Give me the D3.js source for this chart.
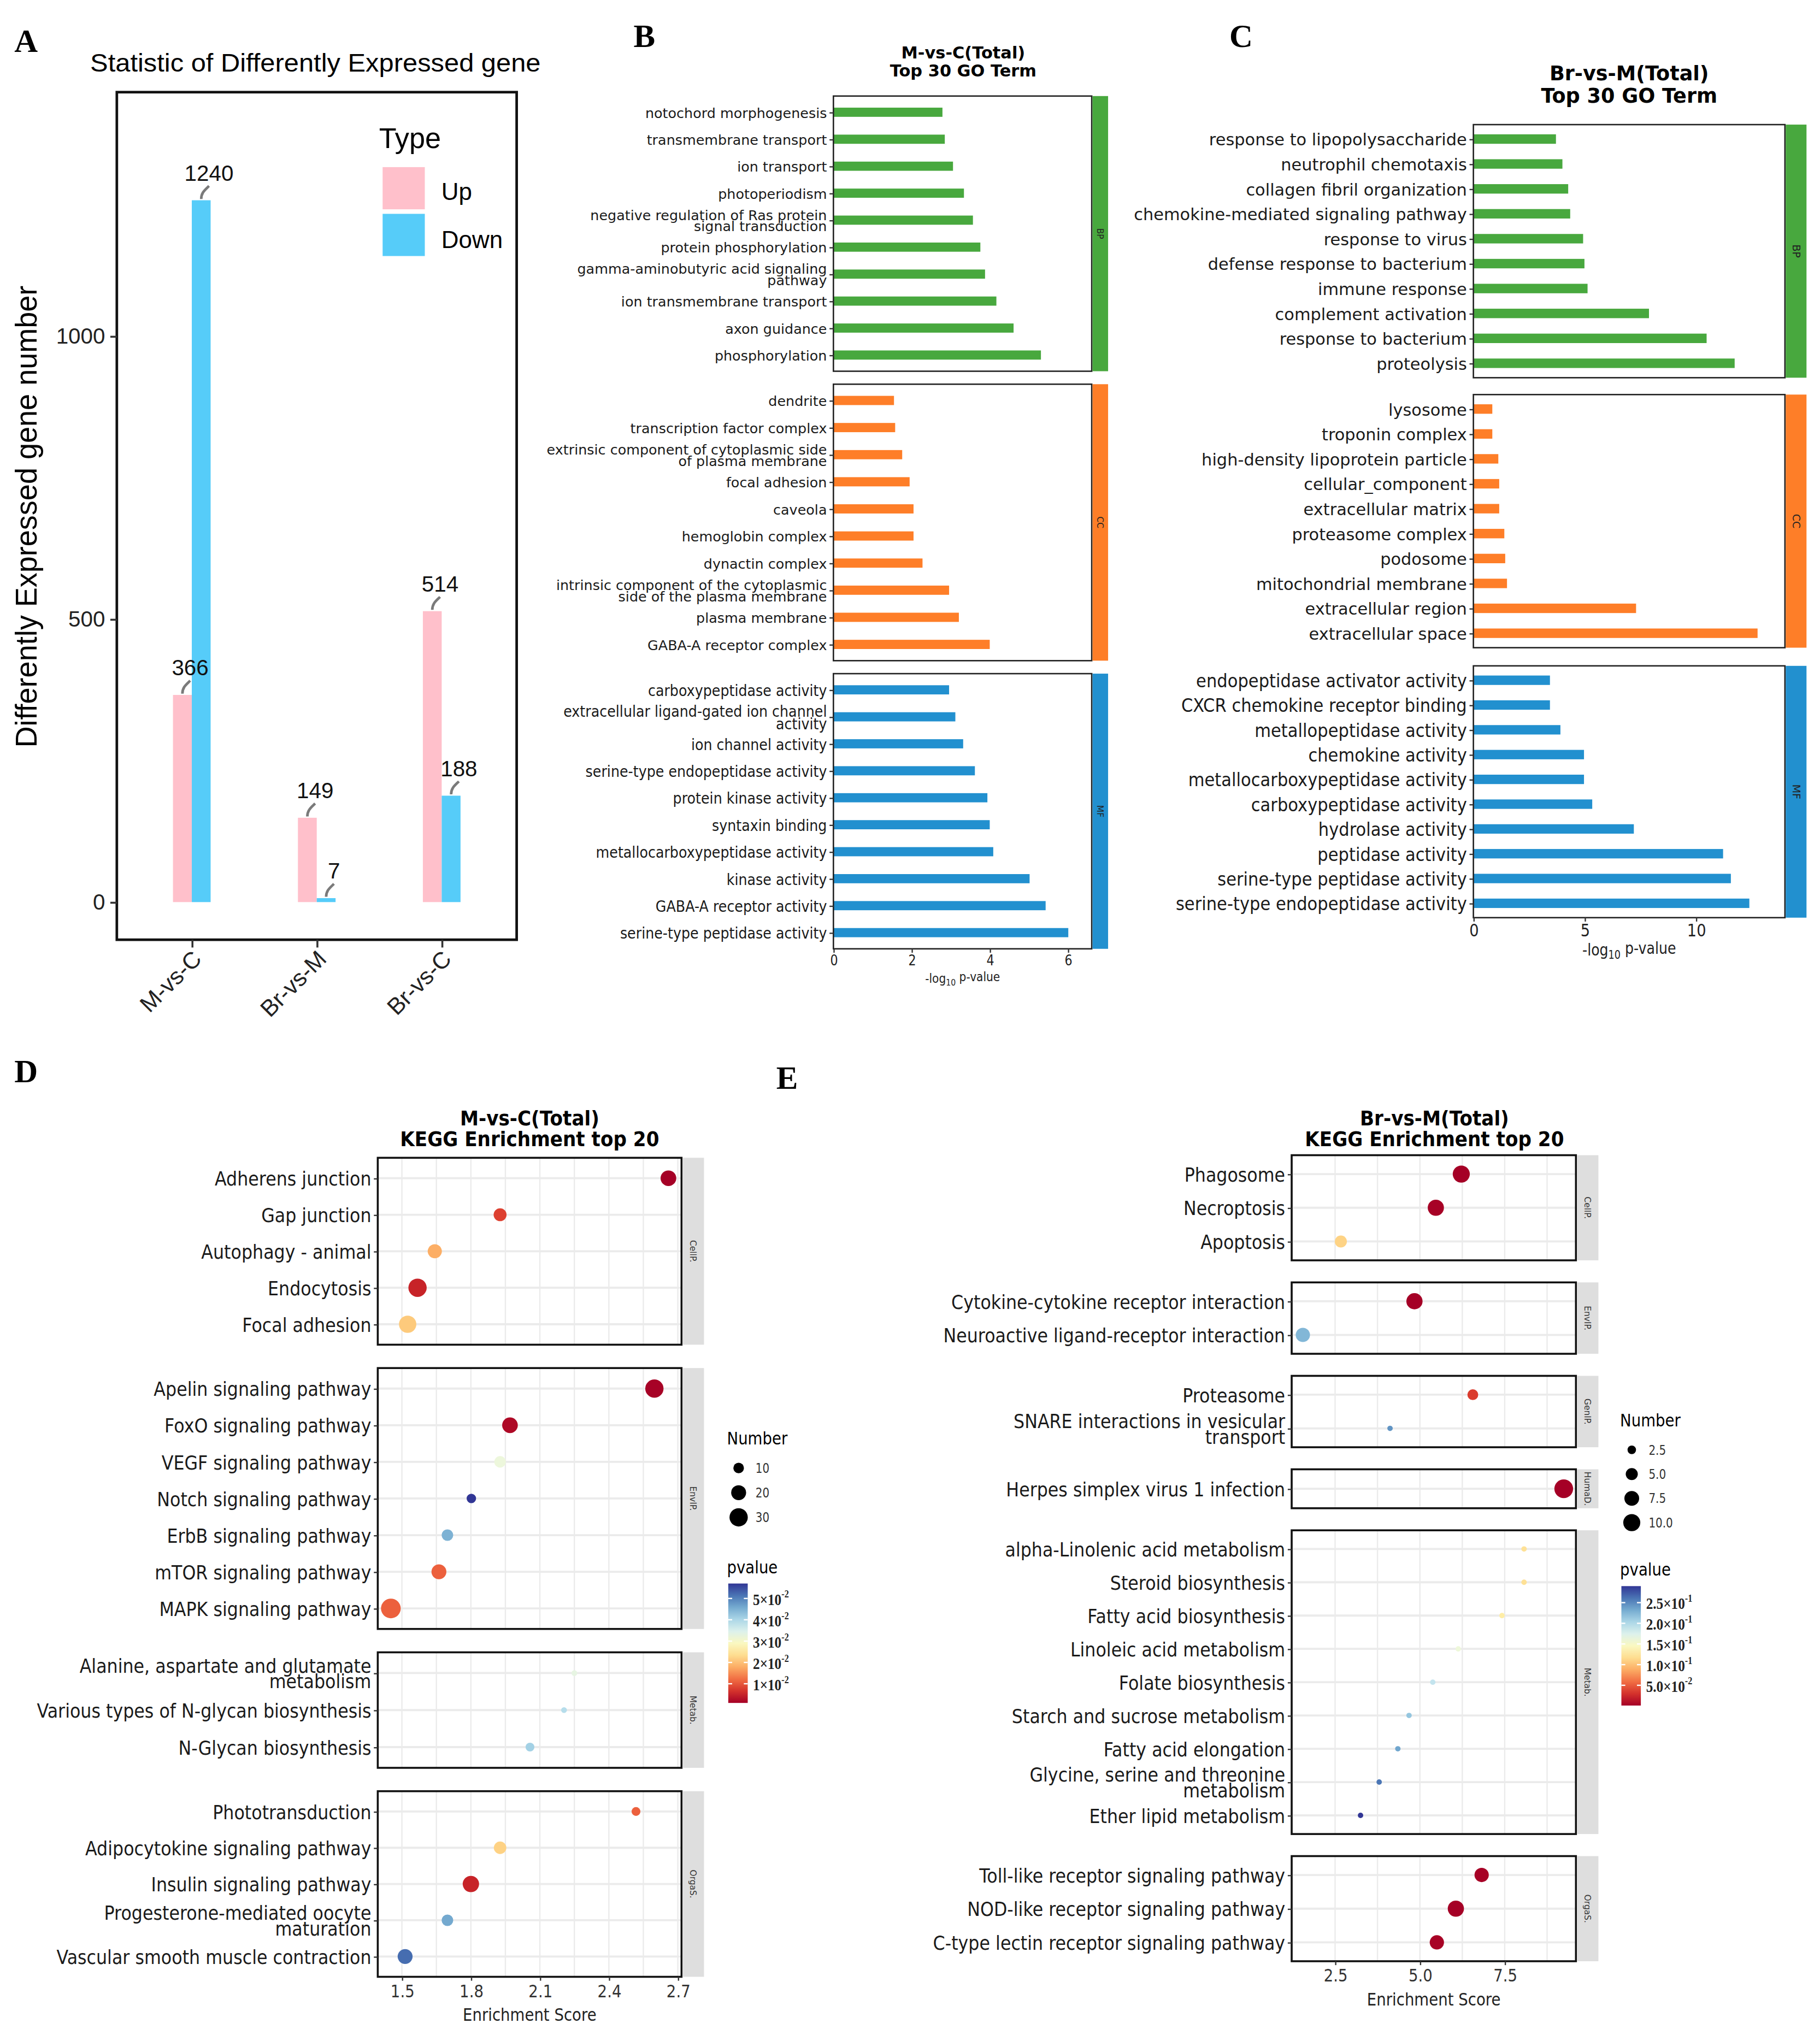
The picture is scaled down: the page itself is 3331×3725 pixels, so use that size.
<!DOCTYPE html>
<html lang="en">
<head>
<meta charset="UTF-8" />
<title>DEG statistics, GO and KEGG enrichment</title>
<script src="https://cdn.jsdelivr.net/npm/d3@7"></script>
<style>
  body { margin: 0; background: #fff; }
</style>
</head>
<body>
<svg id="fig"></svg>
<script>
// ---------- data ----------
const degGroups = ["M-vs-C", "Br-vs-M", "Br-vs-C"];
const degUp = [366, 149, 514];
const degDown = [1240, 7, 188];

// panel B : M-vs-C GO top 30 (-log10 p)
const goB_BP = ["notochord morphogenesis", "transmembrane transport", "ion transport", "photoperiodism",
  "negative regulation of Ras protein\nsignal transduction", "protein phosphorylation",
  "gamma-aminobutyric acid signaling\npathway", "ion transmembrane transport", "axon guidance", "phosphorylation"];
const goB_BPval = [2.79, 2.85, 3.06, 3.34, 3.57, 3.76, 3.88, 4.17, 4.61, 5.31];
const goB_CC = ["dendrite", "transcription factor complex", "extrinsic component of cytoplasmic side\nof plasma membrane",
  "focal adhesion", "caveola", "hemoglobin complex", "dynactin complex",
  "intrinsic component of the cytoplasmic\nside of the plasma membrane", "plasma membrane", "GABA-A receptor complex"];
const goB_CCval = [1.55, 1.58, 1.76, 1.95, 2.05, 2.05, 2.28, 2.96, 3.21, 4.0];
const goB_MF = ["carboxypeptidase activity", "extracellular ligand-gated ion channel\nactivity", "ion channel activity",
  "serine-type endopeptidase activity", "protein kinase activity", "syntaxin binding",
  "metallocarboxypeptidase activity", "kinase activity", "GABA-A receptor activity", "serine-type peptidase activity"];
const goB_MFval = [2.96, 3.12, 3.32, 3.62, 3.94, 4.0, 4.09, 5.02, 5.43, 6.01];
const goB_ticks = [0, 2, 4, 6];

// panel C : Br-vs-M GO top 30
const goC_BP = ["response to lipopolysaccharide", "neutrophil chemotaxis", "collagen fibril organization",
  "chemokine-mediated signaling pathway", "response to virus", "defense response to bacterium",
  "immune response", "complement activation", "response to bacterium", "proteolysis"];
const goC_BPval = [3.71, 4.0, 4.26, 4.35, 4.93, 4.99, 5.13, 7.89, 10.48, 11.74];
const goC_CC = ["lysosome", "troponin complex", "high-density lipoprotein particle", "cellular_component",
  "extracellular matrix", "proteasome complex", "podosome", "mitochondrial membrane",
  "extracellular region", "extracellular space"];
const goC_CCval = [0.85, 0.85, 1.12, 1.16, 1.16, 1.39, 1.43, 1.51, 7.31, 12.77];
const goC_MF = ["endopeptidase activator activity", "CXCR chemokine receptor binding", "metallopeptidase activity",
  "chemokine activity", "metallocarboxypeptidase activity", "carboxypeptidase activity", "hydrolase activity",
  "peptidase activity", "serine-type peptidase activity", "serine-type endopeptidase activity"];
const goC_MFval = [3.44, 3.44, 3.91, 4.97, 4.97, 5.34, 7.21, 11.22, 11.57, 12.4];
const goC_ticks = [0, 5, 10];

// panel D : M-vs-C KEGG top 20
const keggD_classes = ["CellP.", "EnvIP.", "Metab.", "OrgaS."];
const keggD_term = ["Adherens junction", "Gap junction", "Autophagy - animal", "Endocytosis", "Focal adhesion",
  "Apelin signaling pathway", "FoxO signaling pathway", "VEGF signaling pathway", "Notch signaling pathway",
  "ErbB signaling pathway", "mTOR signaling pathway", "MAPK signaling pathway",
  "Alanine, aspartate and glutamate\nmetabolism", "Various types of N-glycan biosynthesis", "N-Glycan biosynthesis",
  "Phototransduction", "Adipocytokine signaling pathway", "Insulin signaling pathway",
  "Progesterone-mediated oocyte\nmaturation", "Vascular smooth muscle contraction"];
const keggD_class = ["CellP.", "CellP.", "CellP.", "CellP.", "CellP.",
  "EnvIP.", "EnvIP.", "EnvIP.", "EnvIP.", "EnvIP.", "EnvIP.", "EnvIP.",
  "Metab.", "Metab.", "Metab.",
  "OrgaS.", "OrgaS.", "OrgaS.", "OrgaS.", "OrgaS."];
const keggD_score = [2.659, 1.927, 1.643, 1.568, 1.525, 2.598, 1.97, 1.927, 1.802, 1.698, 1.661, 1.452,
  2.25, 2.205, 2.057, 2.518, 1.927, 1.80, 1.698, 1.514];
const keggD_number = [22, 15, 18, 30, 27, 30, 22, 12, 8, 12, 20, 35, 3, 3, 7, 7, 14, 24, 12, 20];
const keggD_p = [0.001, 0.008, 0.018, 0.005, 0.021, 0.0012, 0.002, 0.032, 0.057, 0.045, 0.011, 0.011,
  0.033, 0.039, 0.041, 0.011, 0.022, 0.005, 0.046, 0.052];
const keggD_ticks = [1.5, 1.8, 2.1, 2.4, 2.7];
const keggD_sizeBreaks = [10, 20, 30];
const keggD_pBreaks = [0.01, 0.02, 0.03, 0.04, 0.05];
const keggD_pMant = ["1", "2", "3", "4", "5"];
const keggD_pExp = ["-2", "-2", "-2", "-2", "-2"];

// panel E : Br-vs-M KEGG top 20
const keggE_classes = ["CellP.", "EnvIP.", "GenIP.", "HumaD.", "Metab.", "OrgaS."];
const keggE_term = ["Phagosome", "Necroptosis", "Apoptosis",
  "Cytokine-cytokine receptor interaction", "Neuroactive ligand-receptor interaction",
  "Proteasome", "SNARE interactions in vesicular\ntransport",
  "Herpes simplex virus 1 infection",
  "alpha-Linolenic acid metabolism", "Steroid biosynthesis", "Fatty acid biosynthesis", "Linoleic acid metabolism",
  "Folate biosynthesis", "Starch and sucrose metabolism", "Fatty acid elongation",
  "Glycine, serine and threonine\nmetabolism", "Ether lipid metabolism",
  "Toll-like receptor signaling pathway", "NOD-like receptor signaling pathway", "C-type lectin receptor signaling pathway"];
const keggE_class = ["CellP.", "CellP.", "CellP.", "EnvIP.", "EnvIP.", "GenIP.", "GenIP.", "HumaD.",
  "Metab.", "Metab.", "Metab.", "Metab.", "Metab.", "Metab.", "Metab.", "Metab.", "Metab.",
  "OrgaS.", "OrgaS.", "OrgaS."];
const keggE_score = [6.22, 5.47, 2.67, 4.84, 1.55, 6.56, 4.12, 9.24,
  8.07, 8.07, 7.42, 6.13, 5.38, 4.68, 4.35, 3.80, 3.25, 6.82, 6.06, 5.50];
const keggE_number = [10, 9, 5, 9, 7, 4, 1, 12, 1, 1, 1, 1, 1, 1, 1, 1, 1, 7, 9, 7];
const keggE_p = [0.001, 0.002, 0.11, 0.001, 0.225, 0.035, 0.245, 0.001,
  0.12, 0.12, 0.13, 0.16, 0.19, 0.215, 0.235, 0.26, 0.29, 0.002, 0.001, 0.003];
const keggE_ticks = [2.5, 5.0, 7.5];
const keggE_sizeBreaks = [2.5, 5.0, 7.5, 10.0];
const keggE_pBreaks = [0.05, 0.10, 0.15, 0.20, 0.25];
const keggE_pMant = ["5.0", "1.0", "1.5", "2.0", "2.5"];
const keggE_pExp = ["-2", "-1", "-1", "-1", "-1"];

// ---------- setup ----------
const W = 1402;
const S = 3331 / W;
const H = 3725 / S;
const svg = d3.select("#fig").attr("width", 3331).attr("height", 3725)
  .attr("viewBox", `0 0 ${W} ${H}`);
svg.append("rect").attr("width", W).attr("height", H).attr("fill", "#fff");

const ARIAL = "'Liberation Sans', Arial, sans-serif";
const DEJA = "'DejaVu Sans', Verdana, sans-serif";
const SERIF = "'Liberation Serif', 'Times New Roman', serif";
const defs = svg.append("defs");

function label(x, y, s, size) {
  svg.append("text").attr("x", x).attr("y", y).attr("font-family", SERIF)
    .attr("font-weight", "bold").attr("font-size", size || 25).text(s);
}

// rewrite axis tick text into (optionally) multi line, horizontally squeezed text
function styleTicks(sel, o) {
  sel.selectAll(".tick text").each(function (d) {
    const t = d3.select(this);
    const lines = String(d).split("\n");
    t.text(null).attr("dy", null).attr("fill", o.fill || "#1a1a1a")
      .attr("font-size", o.size).attr("font-family", o.family);
    const x0 = +t.attr("x");
    if (o.sx) t.attr("x", x0 / o.sx).attr("transform", `scale(${o.sx},1)`);
    const lh = o.lh || 0.85;
    lines.forEach((l, i) => {
      t.append("tspan").attr("x", t.attr("x"))
        .attr("dy", i === 0 ? `${0.35 - (lines.length - 1) * lh / 2}em` : `${lh}em`).text(l);
    });
  });
}

// ---------- panel A ----------
(function () {
  const fr = { x0: 90, x1: 398, y0: 71, y1: 724 };
  const g = svg.append("g");
  const x = d3.scalePoint().domain(degGroups).range([fr.x0, fr.x1]).padding(0.6);
  const y = d3.scaleLinear().domain([-66.5, 1431]).range([fr.y1, fr.y0]);
  const bw = 14.5;
  const rows = degGroups.map((k, i) => ({ k, up: degUp[i], down: degDown[i] }));
  const bars = [];
  rows.forEach(d => {
    bars.push({ x: x(d.k) - bw, v: d.up, c: "#FFC0CB" });
    bars.push({ x: x(d.k), v: d.down, c: "#56CCF9" });
  });
  g.selectAll(null).data(bars).join("rect")
    .attr("x", d => d.x).attr("width", bw)
    .attr("y", d => y(d.v)).attr("height", d => y(0) - y(d.v))
    .attr("fill", d => d.c);
  // leader lines and value labels
  g.selectAll(null).data(bars).join("path")
    .attr("d", d => {
      const bx = d.x + bw / 2, by = y(d.v);
      return `M${bx},${by - 1} C${bx},${by - 6} ${bx + 3},${by - 8} ${bx + 6},${by - 11}`;
    })
    .attr("fill", "none").attr("stroke", "#7a7a7a").attr("stroke-width", 2);
  g.selectAll(null).data(bars).join("text")
    .attr("x", d => d.x + bw / 2 + 6).attr("y", d => y(d.v) - 15)
    .attr("text-anchor", "middle").attr("font-family", ARIAL).attr("font-size", 17)
    .attr("fill", "#111").text(d => d.v);
  // frame
  g.append("rect").attr("x", fr.x0).attr("y", fr.y0).attr("width", fr.x1 - fr.x0)
    .attr("height", fr.y1 - fr.y0).attr("fill", "none").attr("stroke", "#111").attr("stroke-width", 2);
  // axes
  const ya = g.append("g").attr("transform", `translate(${fr.x0},0)`)
    .call(d3.axisLeft(y).tickValues([0, 500, 1000]).tickFormat(d3.format("d")).tickSize(5).tickPadding(4));
  ya.select(".domain").remove();
  ya.selectAll(".tick line").attr("stroke", "#333").attr("stroke-width", 1.5);
  ya.selectAll(".tick text").attr("font-family", ARIAL).attr("font-size", 17).attr("fill", "#222");
  const xa = g.append("g").attr("transform", `translate(0,${fr.y1})`)
    .call(d3.axisBottom(x).tickSize(6).tickPadding(4));
  xa.select(".domain").remove();
  xa.selectAll(".tick line").attr("stroke", "#333").attr("stroke-width", 1.5);
  xa.selectAll(".tick text").attr("font-family", ARIAL).attr("font-size", 18).attr("fill", "#222")
    .attr("text-anchor", "end").attr("dy", null).attr("y", 0)
    .attr("transform", "translate(8,16) rotate(-45)");
  // titles
  g.append("text").attr("x", 243).attr("y", 55).attr("text-anchor", "middle")
    .attr("font-family", ARIAL).attr("font-size", 19.5).attr("textLength", 347)
    .attr("lengthAdjust", "spacingAndGlyphs").text("Statistic of Differently Expressed gene");
  g.append("text").attr("transform", "translate(28,398) rotate(-90)").attr("text-anchor", "middle")
    .attr("font-family", ARIAL).attr("font-size", 23).attr("textLength", 356)
    .attr("lengthAdjust", "spacingAndGlyphs").text("Differently Expressed gene number");
  // legend
  const types = ["Up", "Down"], tcol = ["#FFC0CB", "#56CCF9"];
  g.append("text").attr("x", 292).attr("y", 114).attr("font-family", ARIAL).attr("font-size", 22).text("Type");
  types.forEach((t, i) => {
    g.append("rect").attr("x", 294).attr("y", 128 + i * 36).attr("width", 34).attr("height", 34)
      .attr("fill", tcol[i]).attr("stroke", "#fff").attr("stroke-width", 1.5);
    g.append("text").attr("x", 340).attr("y", 154 + i * 37).attr("font-family", ARIAL)
      .attr("font-size", 18.5).text(t);
  });
})();

// ---------- GO panels ----------
function goPanel(c) {
  const g = svg.append("g");
  const x = d3.scaleLinear().domain([0, c.xmax]).range([c.x0, c.x1]);
  c.title.forEach((t, i) => g.append("text").attr("x", c.tx).attr("y", c.ty + i * c.tls)
    .attr("text-anchor", "middle").attr("font-family", DEJA).attr("font-weight", "bold")
    .attr("font-size", c.tsize).text(t));
  c.groups.forEach((grp, gi) => {
    const y = d3.scalePoint().domain(grp.terms).range([grp.top, grp.bottom]).padding(c.pad);
    const bh = y.step() * c.barFrac;
    const rows = grp.terms.map((t, i) => ({ t, v: grp.values[i] }));
    g.selectAll(null).data(rows).join("rect")
      .attr("x", x(0)).attr("y", d => y(d.t) - bh / 2)
      .attr("width", d => x(d.v) - x(0)).attr("height", bh).attr("fill", grp.color);
    g.append("rect").attr("x", c.x0).attr("y", grp.top).attr("width", c.x1 - c.x0)
      .attr("height", grp.bottom - grp.top).attr("fill", "none").attr("stroke", "#222").attr("stroke-width", 1.1);
    g.append("rect").attr("x", c.x1 + 0.6).attr("y", grp.top).attr("width", c.stripW)
      .attr("height", grp.bottom - grp.top).attr("fill", grp.color);
    g.append("text").attr("transform", `translate(${c.x1 + 0.6 + c.stripW / 2},${(grp.top + grp.bottom) / 2}) rotate(90)`)
      .attr("text-anchor", "middle").attr("dy", "0.35em").attr("font-family", DEJA)
      .attr("font-size", c.stripSize).attr("fill", "#222").text(grp.name);
    const ax = g.append("g").attr("transform", `translate(${c.x0},0)`)
      .call(d3.axisLeft(y).tickSize(3).tickPadding(2));
    ax.select(".domain").remove();
    ax.selectAll(".tick line").attr("stroke", "#333");
    styleTicks(ax, { size: c.lsize[gi], sx: c.lsx[gi], family: DEJA, lh: 0.82 });
    if (gi === c.groups.length - 1) {
      const xa = g.append("g").attr("transform", `translate(0,${grp.bottom})`)
        .call(d3.axisBottom(x).tickValues(c.ticks).tickFormat(d3.format("d")).tickSize(3).tickPadding(2));
      xa.select(".domain").remove();
      xa.selectAll(".tick line").attr("stroke", "#333");
      xa.selectAll(".tick text").attr("font-family", DEJA).attr("font-size", c.tickSize)
        .attr("fill", "#222").attr("transform", `scale(${c.tickSx},1)`);
      const at = g.append("text").attr("transform", `translate(${(c.x0 + c.x1) / 2},${c.axTitleY}) scale(${c.tickSx},1)`)
        .attr("text-anchor", "middle").attr("font-family", DEJA).attr("font-size", c.axSize).attr("fill", "#222");
      at.append("tspan").text("-log");
      at.append("tspan").attr("font-size", c.axSize * 0.7).attr("dy", "0.3em").text("10");
      at.append("tspan").attr("dy", "-0.3em").text(" p-value");
    }
  });
}

goPanel({
  x0: 642, x1: 841, xmax: 6.61, pad: 0.6, barFrac: 0.34, stripW: 12, stripSize: 6.5,
  title: ["M-vs-C(Total)", "Top 30 GO Term"], tx: 742, ty: 45, tls: 14, tsize: 12.8,
  lsize: [10.7, 10.7, 12], lsx: [1, 1, 0.89],
  ticks: goB_ticks, tickSize: 11, tickSx: 0.85, axTitleY: 757, axSize: 10,
  groups: [
    { name: "BP", terms: goB_BP, values: goB_BPval, color: "#48A83E", top: 74, bottom: 286 },
    { name: "CC", terms: goB_CC, values: goB_CCval, color: "#FE7E28", top: 296, bottom: 509 },
    { name: "MF", terms: goB_MF, values: goB_MFval, color: "#2290CF", top: 519, bottom: 731 }
  ]
});

goPanel({
  x0: 1135, x1: 1375, xmax: 14.0, pad: 0.58, barFrac: 0.38, stripW: 16, stripSize: 8,
  title: ["Br-vs-M(Total)", "Top 30 GO Term"], tx: 1255, ty: 62, tls: 17, tsize: 15.4,
  lsize: [12.8, 12.8, 14], lsx: [1, 1, 0.92],
  ticks: goC_ticks, tickSize: 13.5, tickSx: 0.85, axTitleY: 736, axSize: 12.5,
  groups: [
    { name: "BP", terms: goC_BP, values: goC_BPval, color: "#48A83E", top: 96, bottom: 291 },
    { name: "CC", terms: goC_CC, values: goC_CCval, color: "#FE7E28", top: 304, bottom: 499 },
    { name: "MF", terms: goC_MF, values: goC_MFval, color: "#2290CF", top: 513, bottom: 707 }
  ]
});

// ---------- KEGG panels ----------
function keggPanel(c) {
  const g = svg.append("g");
  const SX = 0.89;
  const x = d3.scaleLinear().domain(c.xdom).range([c.x0, c.x1]);
  const r = d3.scaleSqrt().domain([0, c.nmax]).range([0, c.rmax]);
  const pExt = d3.extent(c.p);
  const col = p => d3.interpolateRdYlBu((p - pExt[0]) / (pExt[1] - pExt[0]));
  const rows = c.term.map((t, i) => ({ t, cls: c.cls[i], s: c.score[i], n: c.num[i], p: c.p[i] }));
  const grid = [];
  const step = c.ticks[1] - c.ticks[0];
  c.ticks.forEach((v, i) => {
    grid.push(v, v + step / 2);
    if (i === 0) grid.push(v - step / 2);
  });
  const gridIn = grid.filter(v => x(v) > c.x0 && x(v) < c.x1);

  c.title.forEach((t, i) => g.append("text")
    .attr("transform", `translate(${c.tx},${c.ty + i * 16}) scale(0.9,1)`)
    .attr("text-anchor", "middle").attr("font-family", DEJA).attr("font-weight", "bold")
    .attr("font-size", 16).text(t));

  c.classes.forEach((cl, k) => {
    const [top, bot] = c.boxes[k];
    const sub = rows.filter(d => d.cls === cl);
    const y = d3.scalePoint().domain(sub.map(d => d.t)).range([top, bot]).padding(0.56);
    g.selectAll(null).data(gridIn).join("line")
      .attr("x1", d => x(d)).attr("x2", d => x(d)).attr("y1", top).attr("y2", bot)
      .attr("stroke", "#EBEBEB").attr("stroke-width", 1);
    g.selectAll(null).data(sub).join("line")
      .attr("x1", c.x0).attr("x2", c.x1).attr("y1", d => y(d.t)).attr("y2", d => y(d.t))
      .attr("stroke", "#EBEBEB").attr("stroke-width", 1.6);
    g.selectAll(null).data(sub).join("circle")
      .attr("cx", d => x(d.s)).attr("cy", d => y(d.t)).attr("r", d => r(d.n))
      .attr("fill", d => col(d.p));
    g.append("rect").attr("x", c.x0).attr("y", top).attr("width", c.x1 - c.x0).attr("height", bot - top)
      .attr("fill", "none").attr("stroke", "#111").attr("stroke-width", 1.5);
    g.append("rect").attr("x", c.x1 + 0.8).attr("y", top).attr("width", 16.5).attr("height", bot - top)
      .attr("fill", "#DEDEDE");
    g.append("text").attr("transform", `translate(${c.x1 + 9},${(top + bot) / 2}) rotate(90)`)
      .attr("text-anchor", "middle").attr("dy", "0.35em").attr("font-family", DEJA)
      .attr("font-size", 6.5).attr("fill", "#333").text(cl);
    const ax = g.append("g").attr("transform", `translate(${c.x0},0)`)
      .call(d3.axisLeft(y).tickSize(3).tickPadding(2));
    ax.select(".domain").remove();
    ax.selectAll(".tick line").attr("stroke", "#333");
    styleTicks(ax, { size: 15, sx: SX, family: DEJA, lh: 0.8 });
  });

  const last = c.boxes[c.boxes.length - 1][1];
  const xa = g.append("g").attr("transform", `translate(0,${last})`)
    .call(d3.axisBottom(x).tickValues(c.ticks).tickFormat(c.fmt).tickSize(3).tickPadding(3));
  xa.select(".domain").remove();
  xa.selectAll(".tick line").attr("stroke", "#333");
  xa.selectAll(".tick text").attr("font-family", DEJA).attr("font-size", 13.5).attr("fill", "#333")
    .attr("transform", `scale(0.86,1)`);
  g.append("text").attr("transform", `translate(${(c.x0 + c.x1) / 2},${last + 34}) scale(0.86,1)`)
    .attr("text-anchor", "middle").attr("font-family", DEJA).attr("font-size", 13.5).attr("fill", "#222")
    .text("Enrichment Score");

  // size legend
  const L = c.leg;
  g.append("text").attr("transform", `translate(${L.x},${L.ny}) scale(0.86,1)`)
    .attr("font-family", DEJA).attr("font-size", 13.5).text("Number");
  c.sizeBreaks.forEach((v, i) => {
    const cy = L.ny + 18 + i * L.nstep;
    g.append("circle").attr("cx", L.x + 9).attr("cy", cy).attr("r", r(v)).attr("fill", "#000");
    g.append("text").attr("transform", `translate(${L.x + 22},${cy}) scale(0.8,1)`).attr("dy", "0.35em")
      .attr("font-family", DEJA).attr("font-size", 10.5).attr("fill", "#333").text(v.toFixed(L.ndec));
  });
  // colour bar
  g.append("text").attr("transform", `translate(${L.x},${L.py}) scale(0.86,1)`)
    .attr("font-family", DEJA).attr("font-size", 13.5).text("pvalue");
  const gid = "grad" + c.id;
  const grad = defs.append("linearGradient").attr("id", gid)
    .attr("x1", 0).attr("y1", 1).attr("x2", 0).attr("y2", 0);
  d3.range(0, 1.0001, 0.1).forEach(t => grad.append("stop").attr("offset", t).attr("stop-color", d3.interpolateRdYlBu(t)));
  const cbTop = L.py + 8, cbBot = L.py + 100;
  g.append("rect").attr("x", L.x + 1).attr("y", cbTop).attr("width", 15).attr("height", cbBot - cbTop)
    .attr("fill", `url(#${gid})`);
  const yc = d3.scaleLinear().domain(pExt).range([cbBot, cbTop]);
  c.pBreaks.forEach((v, i) => {
    const yy = yc(v);
    g.append("line").attr("x1", L.x + 1).attr("x2", L.x + 4).attr("y1", yy).attr("y2", yy).attr("stroke", "#fff");
    g.append("line").attr("x1", L.x + 13).attr("x2", L.x + 16).attr("y1", yy).attr("y2", yy).attr("stroke", "#fff");
    const t = g.append("text").attr("transform", `translate(${L.x + 20},${yy}) scale(0.85,1)`).attr("dy", "0.4em")
      .attr("font-family", SERIF).attr("font-weight", "bold").attr("font-size", 12.5).attr("fill", "#222");
    t.append("tspan").text(c.pMant[i] + "\u00d710");
    t.append("tspan").attr("font-size", 8).attr("dy", "-0.7em").text(c.pExp[i]);
  });
}

keggPanel({
  id: "D", x0: 291, x1: 525, xdom: [1.395, 2.716], nmax: 35, rmax: 7.6,
  term: keggD_term, cls: keggD_class, score: keggD_score, num: keggD_number, p: keggD_p,
  classes: keggD_classes, boxes: [[892, 1036], [1054, 1255], [1273, 1362], [1380, 1523]],
  ticks: keggD_ticks, fmt: d3.format(".1f"),
  title: ["M-vs-C(Total)", "KEGG Enrichment top 20"], tx: 408, ty: 867,
  sizeBreaks: keggD_sizeBreaks, pBreaks: keggD_pBreaks, pMant: keggD_pMant, pExp: keggD_pExp,
  leg: { x: 560, ny: 1113, nstep: 19, ndec: 0, py: 1212 }
});

keggPanel({
  id: "E", x0: 995, x1: 1214, xdom: [1.22, 9.6], nmax: 12, rmax: 7.2,
  term: keggE_term, cls: keggE_class, score: keggE_score, num: keggE_number, p: keggE_p,
  classes: keggE_classes,
  boxes: [[890, 971], [988, 1043], [1060, 1115], [1132, 1162], [1179, 1413], [1430, 1511]],
  ticks: keggE_ticks, fmt: d3.format(".1f"),
  title: ["Br-vs-M(Total)", "KEGG Enrichment top 20"], tx: 1105, ty: 867,
  sizeBreaks: keggE_sizeBreaks, pBreaks: keggE_pBreaks, pMant: keggE_pMant, pExp: keggE_pExp,
  leg: { x: 1248, ny: 1099, nstep: 18.7, ndec: 1, py: 1214 }
});

// ---------- panel letters ----------
label(11, 40, "A");
label(488, 36, "B");
label(947, 36, "C");
label(11, 834, "D");
label(598, 839, "E");
</script>
</body>
</html>
